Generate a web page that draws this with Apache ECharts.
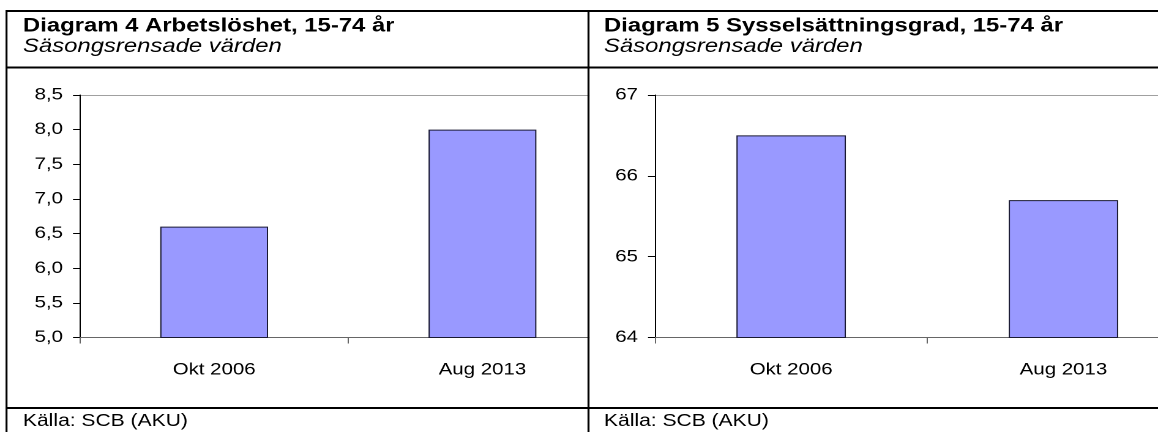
<!DOCTYPE html>
<html><head><meta charset="utf-8">
<script src="https://cdn.jsdelivr.net/npm/echarts@6/dist/echarts.min.js"></script>
<style>
html,body{margin:0;padding:0;background:#fff;overflow:hidden;}
#wrap{width:1158px;height:432px;overflow:hidden;position:relative;background:#fff;}
#chart{width:1000px;height:432px;transform-origin:0 0;transform:scaleX(1.224101);}
</style></head><body>
<div id="wrap"><div id="chart"></div></div>
<script>
// ---- data ----
const categories = ['Okt 2006', 'Aug 2013'];
const unemploymentValues = [6.6, 8.0];
const employmentValues = [66.5, 65.7];
const unemploymentTicks = [5.0, 5.5, 6.0, 6.5, 7.0, 7.5, 8.0, 8.5];
const employmentTicks = [64, 65, 66, 67];
const titles = ['Diagram 4 Arbetslöshet, 15-74 år', 'Diagram 5 Sysselsättningsgrad, 15-74 år'];
const subtitles = ['Säsongsrensade värden', 'Säsongsrensade värden'];
const sources = ['Källa: SCB (AKU)', 'Källa: SCB (AKU)'];

// ---- layout helpers (page is drawn narrower, then stretched horizontally) ----
const K = 1.224101;
const X = v => v / K;
const FONT = '"Liberation Sans", Arial, Helvetica, sans-serif';
const BAR_COLOR = '#9999FF';

function splitColors(n) {
  const a = [];
  for (let i = 0; i < n; i++) a.push(i === n - 1 ? '#a0a0a0' : 'rgba(0,0,0,0)');
  return a;
}

function yAxisFor(gridIndex, ticks, fmt, z) {
  return {
    type: 'value', gridIndex: gridIndex, z: z,
    min: ticks[0], max: ticks[ticks.length - 1], interval: ticks[1] - ticks[0],
    axisLine: { show: true, lineStyle: { color: '#000', width: 1 } },
    axisTick: { show: true, inside: false, length: X(7), lineStyle: { color: '#000' } },
    axisLabel: { show: true, margin: X(17), fontSize: 16.7, fontFamily: FONT, color: '#000', formatter: fmt },
    splitLine: { show: true, lineStyle: { color: splitColors(ticks.length), width: 1 } }
  };
}
function xAxisFor(gridIndex, z) {
  return {
    type: 'category', gridIndex: gridIndex, z: z, data: categories,
    boundaryGap: true,
    axisLine: { show: true, lineStyle: { color: '#666', width: 1 } },
    axisTick: { show: true, inside: false, length: 6, alignWithLabel: false, lineStyle: { color: '#666' } },
    axisLabel: { show: true, margin: 24, fontSize: 16.7, fontFamily: FONT, color: '#000', interval: 0 },
    splitLine: { show: false }
  };
}

function txt(x, y, text, size, weight, style, z) {
  return { type: 'text', x: X(x), y: y, z: z || 20,
    style: { text: text, fill: '#000', fontSize: size, fontWeight: weight, fontStyle: style,
             fontFamily: FONT, align: 'left', verticalAlign: 'middle' } };
}
function hline(x1, x2, y, w) {
  return { type: 'line', z: 20, shape: { x1: X(x1), y1: y, x2: X(x2), y2: y },
           style: { stroke: '#000', lineWidth: w || 2 } };
}
function vline(x, y1, y2) {
  return { type: 'line', z: 20, shape: { x1: X(x), y1: y1, x2: X(x), y2: y2 },
           style: { stroke: '#000', lineWidth: 2 / K } };
}

const chart = echarts.init(document.getElementById('chart'), null, { renderer: 'canvas', devicePixelRatio: 2 });

const option = {
  backgroundColor: '#fff',
  animation: false,
  grid: [
    { left: X(80), top: 95, width: X(536.6), height: 242.5, containLabel: false },
    { left: X(655), top: 95, width: X(544.6), height: 242.5, containLabel: false }
  ],
  xAxis: [ xAxisFor(0, 1), xAxisFor(1, 7) ],
  yAxis: [
    yAxisFor(0, unemploymentTicks, v => v.toFixed(1).replace('.', ','), 1),
    yAxisFor(1, employmentTicks, v => String(Math.round(v)), 7)
  ],
  series: [
    { type: 'bar', xAxisIndex: 0, yAxisIndex: 0, z: 2, data: unemploymentValues,
      barCategoryGap: '59.8%',
      itemStyle: { color: BAR_COLOR, borderColor: '#1a1a33', borderWidth: 1 } },
    { type: 'bar', xAxisIndex: 1, yAxisIndex: 1, z: 8, data: employmentValues,
      barCategoryGap: '59.8%',
      itemStyle: { color: BAR_COLOR, borderColor: '#1a1a33', borderWidth: 1 } }
  ],
  graphic: [
    // cover for the overflow of the left plot into the right panel
    { type: 'rect', z: 5, shape: { x: X(589.5), y: 69, width: 1000, height: 338 }, style: { fill: '#fff' } },
    hline(5.5, 1160, 11),
    hline(5.5, 1160, 67.5),
    hline(5.5, 1160, 408),
    vline(6.5, 10, 432),
    vline(588.5, 10, 432),
    txt(23, 26, titles[0], 19.5, 'bold', 'normal'),
    txt(23, 46.5, subtitles[0], 19.5, 'normal', 'italic'),
    txt(23, 421.5, sources[0], 17.2, 'normal', 'normal'),
    txt(604, 26, titles[1], 19.5, 'bold', 'normal'),
    txt(604, 46.5, subtitles[1], 19.5, 'normal', 'italic'),
    txt(604, 421.5, sources[1], 17.2, 'normal', 'normal')
  ]
};
chart.setOption(option);
</script>
</body></html>
